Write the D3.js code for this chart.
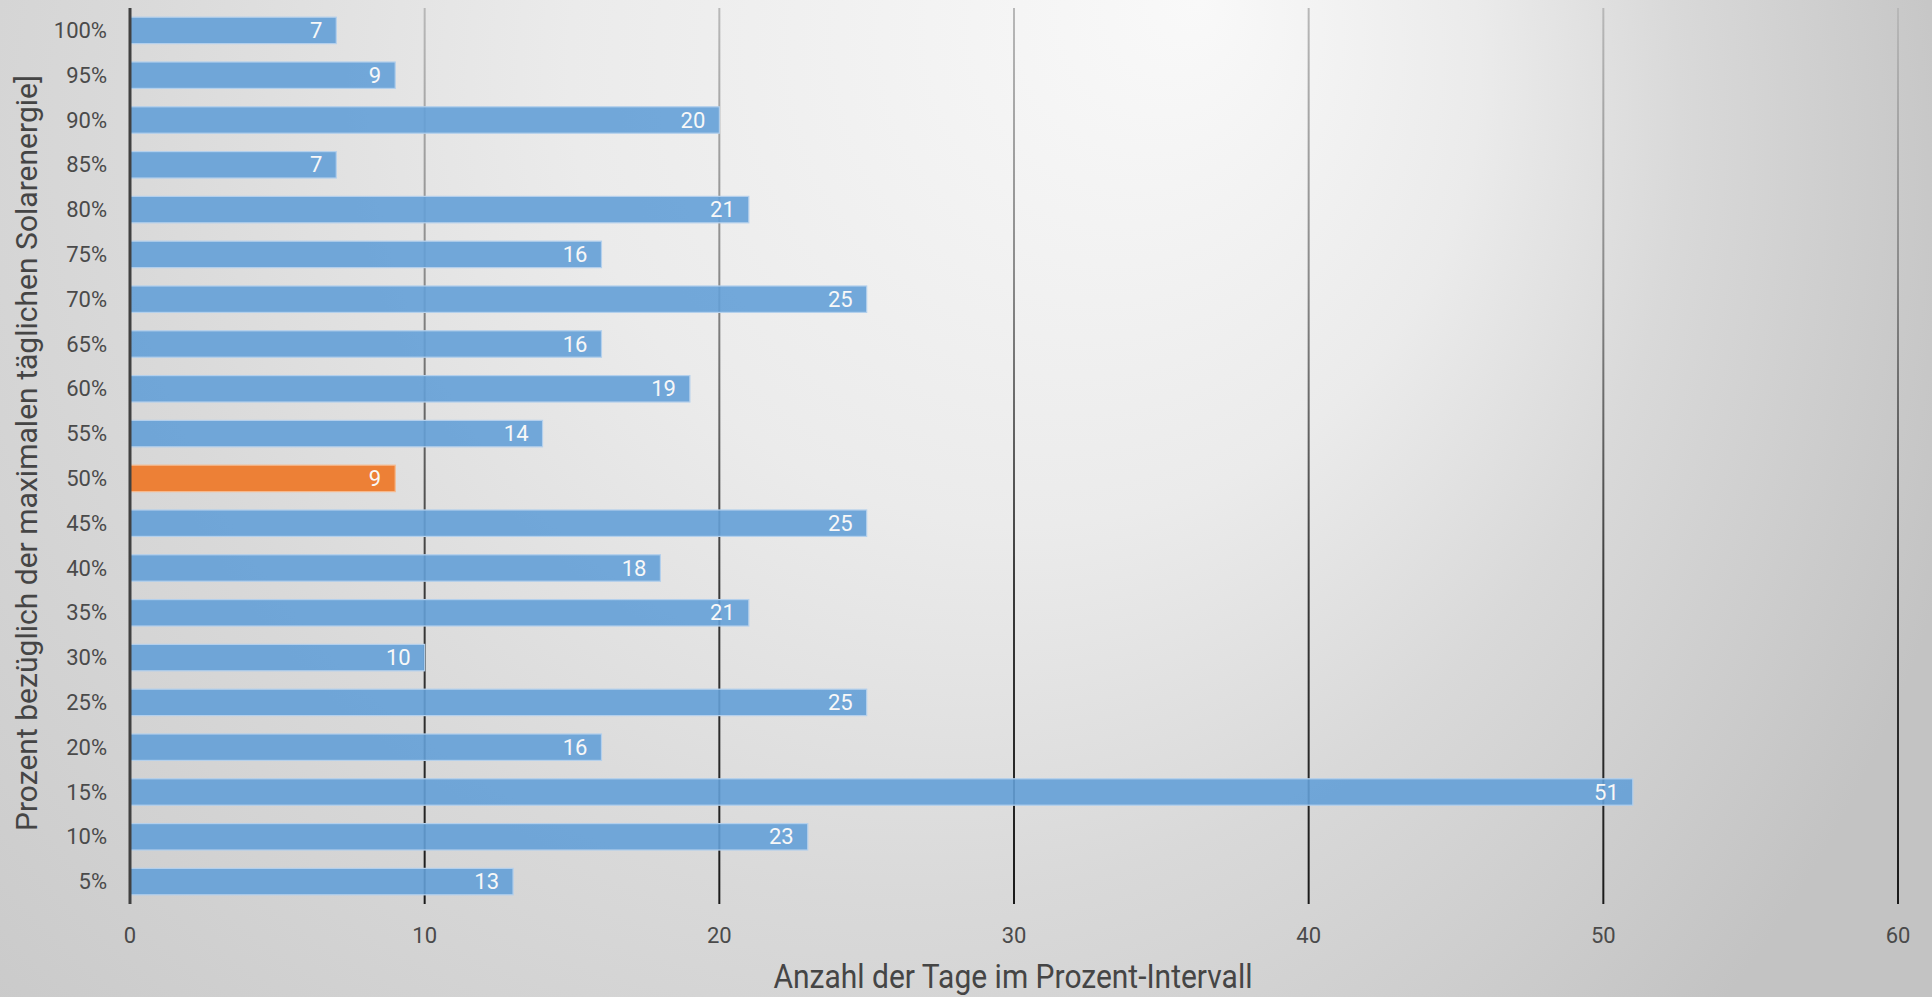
<!DOCTYPE html>
<html>
<head>
<meta charset="utf-8">
<script src="https://cdn.jsdelivr.net/npm/d3@7"></script>
<style>
html,body{margin:0;padding:0;overflow:hidden;background:#e0e0e0;}
svg{display:block;}
</style>
</head>
<body>
<svg id="chart" width="1932" height="997"></svg>
<script>
const categories = ["5%","10%","15%","20%","25%","30%","35%","40%","45%","50%","55%","60%","65%","70%","75%","80%","85%","90%","95%","100%"];
const values = [13,23,51,16,25,10,21,18,25,9,14,19,16,25,16,21,7,20,9,7];
const highlight = ["50%"];
const xTicks = [0,10,20,30,40,50,60];
const xTitle = "Anzahl der Tage im Prozent-Intervall";
const yTitle = "Prozent bezüglich der maximalen täglichen Solarenergie]";

const W = 1932, H = 997;
const svg = d3.select("#chart");
const defs = svg.append("defs");

const bg = defs.append("radialGradient").attr("id","bg")
  .attr("gradientUnits","userSpaceOnUse")
  .attr("cx",700).attr("cy",200).attr("r",1300)
  .attr("fx",1200).attr("fy",0);
[[0,"#f9f9f9"],[0.35,"#ebebeb"],[0.6,"#d9d9d9"],[0.8,"#cecece"],[1,"#c3c3c3"]]
  .forEach(([o,c])=>bg.append("stop").attr("offset",o).attr("stop-color",c));
svg.append("rect").attr("width",W).attr("height",H).attr("fill","url(#bg)");

const x = d3.scaleLinear().domain([0,60]).range([130,1898]);
const y = d3.scaleBand().domain(categories.slice().reverse()).range([8,904])
  .paddingInner(0.41).paddingOuter(0.205);

const gg = defs.append("linearGradient").attr("id","grid")
  .attr("gradientUnits","userSpaceOnUse").attr("x1",0).attr("x2",0).attr("y1",8).attr("y2",904);
[[0,"#b8b8b8"],[0.3,"#8a8a8a"],[0.65,"#3a3a3a"],[1,"#1a1a1a"]]
  .forEach(([o,c])=>gg.append("stop").attr("offset",o).attr("stop-color",c));

// gridlines
svg.append("g").selectAll("line").data(xTicks.filter(d=>d>0)).join("line")
  .attr("x1",d=>x(d)).attr("x2",d=>x(d)).attr("y1",8).attr("y2",904)
  .attr("stroke","url(#grid)").attr("stroke-width",2);

// bars
const data = categories.map((c,i)=>({c, v: values[i]}));
svg.append("g").selectAll("rect").data(data).join("rect")
  .attr("x",x(0)).attr("y",d=>y(d.c))
  .attr("width",d=>x(d.v)-x(0)).attr("height",y.bandwidth())
  .attr("fill",d=>highlight.includes(d.c)?"#ed7d31":"rgb(100,160,215)")
  .attr("fill-opacity",d=>highlight.includes(d.c)?0.97:0.9)
  .attr("stroke",d=>highlight.includes(d.c)?"#f6b98e":"#b4d0ec")
  .attr("stroke-width",1.2);

const font = "Roboto, 'Open Sans', sans-serif";

// value labels
svg.append("g").selectAll("text").data(data).join("text")
  .attr("x",d=>x(d.v)-14).attr("y",d=>y(d.c)+y.bandwidth()/2)
  .attr("text-anchor","end").attr("dominant-baseline","central")
  .attr("font-family",font).attr("font-size",22)
  .attr("fill","#f8f8f8").text(d=>d.v);

// y axis line
svg.append("line").attr("x1",x(0)).attr("x2",x(0)).attr("y1",8).attr("y2",904)
  .attr("stroke","#404040").attr("stroke-width",3);

// y tick labels
svg.append("g").selectAll("text").data(categories).join("text")
  .attr("x",107).attr("y",d=>y(d)+y.bandwidth()/2)
  .attr("text-anchor","end").attr("dominant-baseline","central")
  .attr("font-family",font).attr("font-size",22)
  .attr("fill","#4a4a4a").text(d=>d);

// x tick labels
svg.append("g").selectAll("text").data(xTicks).join("text")
  .attr("x",d=>x(d)).attr("y",935)
  .attr("text-anchor","middle").attr("dominant-baseline","central")
  .attr("font-family",font).attr("font-size",22)
  .attr("fill","#4a4a4a").text(d=>d);

// axis titles
svg.append("text").attr("x",1013).attr("y",988).attr("text-anchor","middle")
  .attr("font-family",font).attr("font-size",33)
  .attr("fill","#454545").attr("textLength",479).attr("lengthAdjust","spacingAndGlyphs")
  .text(xTitle);

svg.append("text").attr("transform","translate(37,453) rotate(-90)")
  .attr("text-anchor","middle")
  .attr("font-family",font).attr("font-size",30)
  .attr("fill","#454545").attr("textLength",756).attr("lengthAdjust","spacingAndGlyphs")
  .text(yTitle);
</script>
</body>
</html>
